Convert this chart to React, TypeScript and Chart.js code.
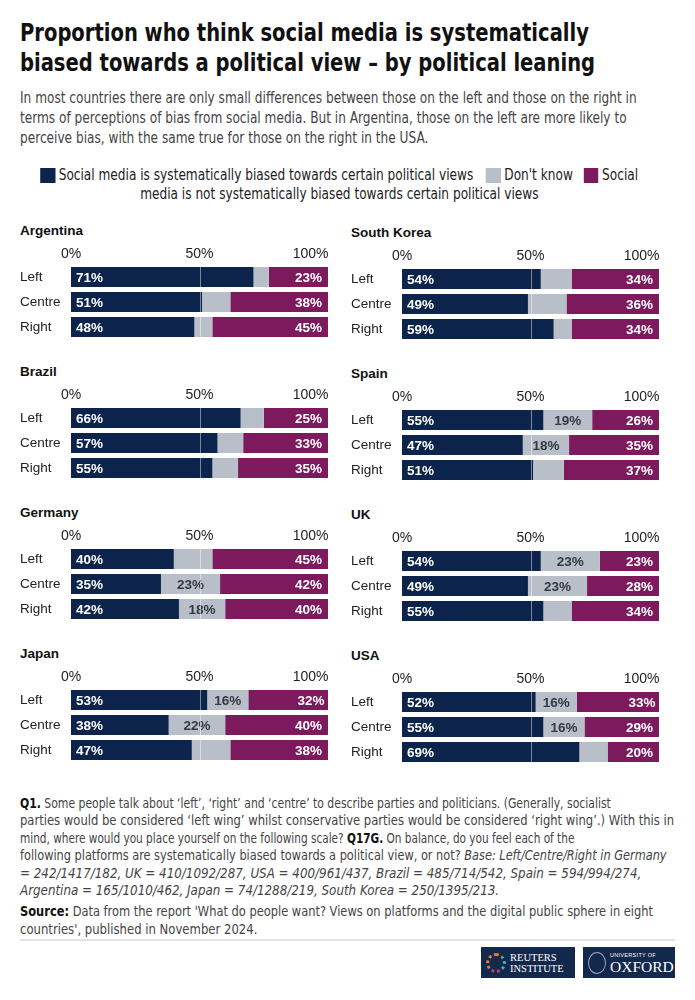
import React, { useEffect, useRef } from "react";
import { Chart, registerables } from "chart.js";
Chart.register(...registerables);

const rowLabels = ["Left", "Centre", "Right"];
const leftCountries = ["Argentina", "Brazil", "Germany", "Japan"];
const rightCountries = ["South Korea", "Spain", "UK", "USA"];
const tickValues = [0, 50, 100];
const seriesNames = [
  "Social media is systematically biased towards certain political views",
  "Don't know",
  "Social media is not systematically biased towards certain political views",
];

// values per country, rows Left / Centre / Right
const biased: Record<string, number[]> = {
  Argentina: [71, 51, 48],
  Brazil: [66, 57, 55],
  Germany: [40, 35, 42],
  Japan: [53, 38, 47],
  "South Korea": [54, 49, 59],
  Spain: [55, 47, 51],
  UK: [54, 49, 55],
  USA: [52, 55, 69],
};
const dontKnow: Record<string, number[]> = {
  Argentina: [6, 11, 7],
  Brazil: [9, 10, 10],
  Germany: [15, 23, 18],
  Japan: [16, 22, 15],
  "South Korea": [12, 15, 7],
  Spain: [19, 18, 12],
  UK: [23, 23, 11],
  USA: [16, 16, 11],
};
const notBiased: Record<string, number[]> = {
  Argentina: [23, 38, 45],
  Brazil: [25, 33, 35],
  Germany: [45, 42, 40],
  Japan: [32, 40, 38],
  "South Korea": [34, 36, 34],
  Spain: [26, 35, 37],
  UK: [23, 28, 34],
  USA: [33, 29, 20],
};

const NAVY = "#0c234b";
const GREY = "#b9bfc9";
const PURPLE = "#7c1a5d";
const COLORS = [NAVY, GREY, PURPLE];
const CHART_FONT = "'Liberation Sans', Arial, sans-serif";
const TEXT_FONT = "'DejaVu Sans Condensed', 'DejaVu Sans', sans-serif";

const labelPlugin = {
  id: "barLabels",
  afterDatasetsDraw(chart: any) {
    const ctx = chart.ctx;
    ctx.save();
    ctx.font = `bold 13.5px ${CHART_FONT}`;
    ctx.textBaseline = "middle";
    chart.data.datasets.forEach((ds: any, di: number) => {
      const meta = chart.getDatasetMeta(di);
      meta.data.forEach((el: any, i: number) => {
        const v = ds.data[i];
        const start = Math.min(el.x, el.base);
        const end = Math.max(el.x, el.base);
        if (di === 0) {
          ctx.fillStyle = "#ffffff";
          ctx.textAlign = "left";
          ctx.fillText(`${v}%`, start + 5, el.y + 1);
        } else if (di === 1) {
          if (v >= 16) {
            ctx.fillStyle = "#333a44";
            ctx.textAlign = "center";
            ctx.fillText(`${v}%`, (start + end) / 2, el.y + 1);
          }
        } else {
          ctx.fillStyle = "#ffffff";
          ctx.textAlign = "right";
          ctx.fillText(`${v}%`, end - 6, el.y + 1);
        }
      });
    });
    // 50% reference line
    const xs = chart.scales.x;
    const x50 = Math.round(xs.getPixelForValue(50)) + 0.5;
    const first = chart.getDatasetMeta(0).data[0];
    const last = chart.getDatasetMeta(0).data[rowLabels.length - 1];
    ctx.strokeStyle = "rgba(255,255,255,0.45)";
    ctx.lineWidth = 1;
    ctx.beginPath();
    ctx.moveTo(x50, first.y - first.height / 2);
    ctx.lineTo(x50, last.y + last.height / 2);
    ctx.stroke();
    // top tick labels
    ctx.font = `14px ${CHART_FONT}`;
    ctx.fillStyle = "#222";
    tickValues.forEach((t, idx) => {
      const px = xs.getPixelForValue(t);
      const isLast = idx === tickValues.length - 1;
      ctx.textAlign = isLast ? "right" : "center";
      ctx.fillText(`${t}%`, isLast ? px + 0.5 : px, chart.chartArea.top - 10.5);
    });
    ctx.restore();
  },
};

function CountryChart({ country }: { country: string }) {
  const ref = useRef<HTMLCanvasElement>(null);
  useEffect(() => {
    const vals = [biased[country], dontKnow[country], notBiased[country]];
    const chart = new Chart(ref.current!, {
      type: "bar",
      data: {
        labels: rowLabels,
        datasets: vals.map((d, i) => ({
          label: seriesNames[i],
          data: d,
          backgroundColor: COLORS[i],
          borderWidth: 0,
          categoryPercentage: 0.8,
          barPercentage: 1,
        })),
      },
      options: {
        indexAxis: "y",
        animation: false,
        responsive: false,
        devicePixelRatio: 1,
        layout: { autoPadding: false, padding: { top: 0, bottom: 0.5, left: 0, right: 2 } },
        plugins: { legend: { display: false }, tooltip: { enabled: false } },
        scales: {
          x: {
            stacked: true,
            min: 0,
            max: 100,
            position: "top",
            grid: { display: false },
            border: { display: false },
            ticks: { display: false, stepSize: 50 },
            afterFit: (s: any) => {
              s.height = 24.5;
            },
          },
          y: {
            stacked: true,
            grid: { display: false },
            border: { display: false },
            ticks: {
              crossAlign: "far",
              color: "#222",
              font: { family: CHART_FONT, size: 13.5 },
              padding: 4,
            },
            afterFit: (s: any) => {
              s.width = 51;
              s.paddingTop = 0;
              s.paddingBottom = 0;
            },
          },
        },
      },
      plugins: [labelPlugin],
    } as any);
    return () => chart.destroy();
  }, [country]);
  return (
    <div style={{ marginBottom: 23 }}>
      <div
        style={{
          font: `bold 13.5px ${CHART_FONT}`,
          color: "#111",
          height: 18,
          lineHeight: "18px",
        }}
      >
        {country}
      </div>
      <canvas ref={ref} width={310} height={100} style={{ display: "block", width: 310, height: 100 }} />
    </div>
  );
}

function Line({ k, children, center }: { k: number; children: React.ReactNode; center?: boolean }) {
  return (
    <div
      style={{
        whiteSpace: "nowrap",
        display: "flex",
        justifyContent: center ? "center" : "flex-start",
      }}
    >
      <span
        style={{
          display: "inline-block",
          flex: "none",
          transform: `scaleX(${k})`,
          transformOrigin: center ? "center" : "left",
        }}
      >
        {children}
      </span>
    </div>
  );
}

function Swatch({ color }: { color: string }) {
  return (
    <span
      style={{
        display: "inline-block",
        width: 16.5,
        height: 15,
        background: color,
        verticalAlign: "-3px",
        marginRight: 4,
      }}
    />
  );
}

const K = 0.9;
const B = { color: "#111" };

export default function App() {
  return (
    <div style={{ width: 655, padding: "10px 0 0 12px", fontFamily: TEXT_FONT, color: "#222" }}>
      <div style={{ fontWeight: 700, fontSize: 24, lineHeight: "30px", color: "#111" }}>
        <Line k={0.905}>Proportion who think social media is systematically</Line>
        <Line k={0.905}>biased towards a political view – by political leaning</Line>
      </div>
      <div style={{ fontSize: 15, lineHeight: "20px", color: "#444", marginTop: 10 }}>
        <Line k={0.9}>
          In most countries there are only small differences between those on the left and those on the right in
        </Line>
        <Line k={0.9}>
          terms of perceptions of bias from social media. But in Argentina, those on the left are more likely to
        </Line>
        <Line k={0.9}>perceive bias, with the same true for those on the right in the USA.</Line>
      </div>
      <div style={{ fontSize: 15, lineHeight: "19px", color: "#222", marginTop: 18, width: 638 }}>
        <Line k={K} center>
          <Swatch color={NAVY} />
          {seriesNames[0]}
          <span style={{ display: "inline-block", width: 14 }} />
          <Swatch color={GREY} />
          {seriesNames[1]}
          <span style={{ display: "inline-block", width: 12 }} />
          <Swatch color={PURPLE} />
          Social
        </Line>
        <Line k={K} center>
          media is not systematically biased towards certain political views
        </Line>
      </div>
      <div style={{ display: "flex", marginTop: 18 }}>
        <div style={{ width: 331 }}>
          {leftCountries.map((c) => (
            <CountryChart key={c} country={c} />
          ))}
        </div>
        <div style={{ width: 324, paddingTop: 2 }}>
          {rightCountries.map((c) => (
            <CountryChart key={c} country={c} />
          ))}
        </div>
      </div>
      <div style={{ fontSize: 14, lineHeight: "17.4px", color: "#444", marginTop: 7 }}>
        <Line k={0.861}>
          <b style={B}>Q1.</b> Some people talk about ‘left’, ‘right’ and ‘centre’ to describe parties and politicians.
          (Generally, socialist
        </Line>
        <Line k={0.92}>
          parties would be considered ‘left wing’ whilst conservative parties would be considered ‘right wing’.) With
          this in
        </Line>
        <Line k={0.835}>
          mind, where would you place yourself on the following scale? <b style={B}>Q17G.</b> On balance, do you feel
          each of the
        </Line>
        <Line k={0.9}>
          following platforms are systematically biased towards a political view, or not?{" "}
          <i>Base: Left/Centre/Right in Germany</i>
        </Line>
        <Line k={0.945}>
          <i>= 242/1417/182, UK = 410/1092/287, USA = 400/961/437, Brazil = 485/714/542, Spain = 594/994/274,</i>
        </Line>
        <Line k={0.945}>
          <i>Argentina = 165/1010/462, Japan = 74/1288/219, South Korea = 250/1395/213.</i>
        </Line>
      </div>
      <div style={{ fontSize: 14, lineHeight: "17.4px", color: "#444", marginTop: 4 }}>
        <Line k={0.908}>
          <b style={B}>Source:</b> Data from the report 'What do people want? Views on platforms and the digital public
          sphere in eight
        </Line>
        <Line k={0.926}>countries', published in November 2024.</Line>
      </div>
      <div style={{ height: 2, background: "#e3e3e3", marginTop: 1 }} />
      <div style={{ display: "flex", justifyContent: "flex-end", gap: 8, marginTop: 6 }}>
        <div
          style={{
            width: 94,
            height: 31,
            background: "#13284d",
            display: "flex",
            alignItems: "center",
            gap: 4,
            paddingLeft: 5,
            boxSizing: "border-box",
          }}
        >
          <div
            style={{
              width: 20,
              height: 20,
              borderRadius: "50%",
              border: "3px dotted #e07b39",
              borderRightColor: "#4bb3a5",
              borderBottomColor: "#c23d6b",
              boxSizing: "border-box",
            }}
          />
          <div style={{ fontFamily: "'Liberation Serif', serif", color: "#fff", fontSize: 10.5, lineHeight: "11px" }}>
            REUTERS
            <br />
            INSTITUTE
          </div>
        </div>
        <div
          style={{
            width: 92,
            height: 31,
            background: "#13284d",
            display: "flex",
            alignItems: "center",
            gap: 4,
            paddingLeft: 5,
            boxSizing: "border-box",
          }}
        >
          <div
            style={{
              width: 18,
              height: 22,
              borderRadius: "50%",
              border: "1.5px solid #9aa6bb",
              boxSizing: "border-box",
            }}
          />
          <div style={{ fontFamily: "'Liberation Serif', serif", color: "#fff" }}>
            <div
              style={{
                fontSize: 5.5,
                lineHeight: "7px",
                letterSpacing: 0.3,
                fontFamily: "'Liberation Sans', sans-serif",
              }}
            >
              UNIVERSITY OF
            </div>
            <div style={{ fontSize: 15.5, lineHeight: "15px" }}>OXFORD</div>
          </div>
        </div>
      </div>
    </div>
  );
}
